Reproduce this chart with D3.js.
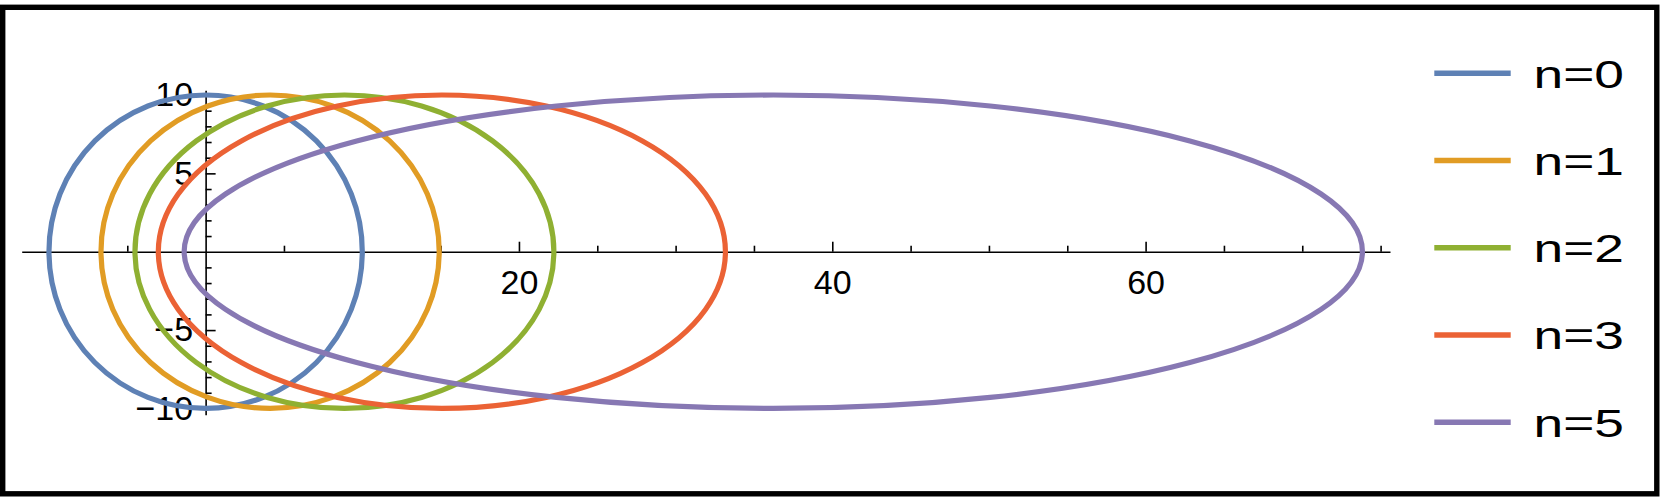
<!DOCTYPE html>
<html>
<head>
<meta charset="utf-8">
<script src="https://cdn.jsdelivr.net/npm/d3@7"></script>
<style>
  body { margin: 0; background: #fff; }
  text { font-family: "Liberation Sans", Arial, sans-serif; }
</style>
</head>
<body>
<script>
// series: left and right ends on the x axis, half height
var labels = ["n=0", "n=1", "n=2", "n=3", "n=5"];
var xLeft  = [-10.0, -6.68, -4.51, -3.02, -1.37];
var xRight = [10.0, 14.91, 22.23, 33.18, 73.84];
var yHalf  = [10, 10, 10, 10, 10];
var colors = ["#5e81b5", "#e19c24", "#8fb032", "#eb6235", "#8778b3"];

// ticks
var xMajor = [20, 40, 60];
var xMinor = [-10, -5, 5, 10, 15, 25, 30, 35, 45, 50, 55, 65, 70, 75];
var yMajor = [-10, -5, 5, 10];
var yMinor = [-9, -8, -7, -6, -4, -3, -2, -1, 1, 2, 3, 4, 6, 7, 8, 9];

var w = 1661;
var h = 503;

var svg = d3.select("body")
            .append("svg")
            .attr("width", w)
            .attr("height", h);

// frame
svg.append("rect")
    .attr("x", 2.7)
    .attr("y", 7.3)
    .attr("width", 1654.1)
    .attr("height", 486.5)
    .attr("fill", "none")
    .attr("stroke", "#000")
    .attr("stroke-width", 5.4);

var x = d3.scaleLinear().domain([-11.74, 75.6]).range([21.7, 1390]);
var y = d3.scaleLinear().domain([-10.4, 10.3]).range([414.7, 90.3]);

// x axis, major with labels
svg.append("g")
    .attr("transform", "translate(0," + y(0) + ")")
    .call(d3.axisBottom(x).tickValues(xMajor).tickSizeInner(-10).tickSizeOuter(0).tickPadding(18));
svg.append("g")
    .attr("transform", "translate(0," + y(0) + ")")
    .call(d3.axisBottom(x).tickValues(xMinor).tickSizeInner(-6).tickSizeOuter(0).tickFormat(""))
    .select(".domain").remove();

// y axis
svg.append("g")
    .attr("transform", "translate(" + x(0) + ",0)")
    .call(d3.axisLeft(y).tickValues(yMajor).tickSizeInner(-10).tickSizeOuter(0).tickPadding(12.5));
svg.append("g")
    .attr("transform", "translate(" + x(0) + ",0)")
    .call(d3.axisLeft(y).tickValues(yMinor).tickSizeInner(-6).tickSizeOuter(0).tickFormat(""))
    .select(".domain").remove();

svg.selectAll(".domain, .tick line")
    .attr("stroke", "#000")
    .attr("stroke-width", 1.6);

svg.selectAll(".tick text")
    .attr("fill", "#000")
    .style("font-size", "34px");

// curves
var series = labels.map(function(d, i) {
    return { label: d, x0: xLeft[i], x1: xRight[i], b: yHalf[i], color: colors[i] };
});

svg.append("g")
    .selectAll("ellipse")
    .data(series)
    .enter()
    .append("ellipse")
    .attr("cx", function(d) { return x((d.x0 + d.x1) / 2); })
    .attr("cy", y(0))
    .attr("rx", function(d) { return (x(d.x1) - x(d.x0)) / 2; })
    .attr("ry", function(d) { return y(0) - y(d.b); })
    .attr("fill", "none")
    .attr("stroke", function(d) { return d.color; })
    .attr("stroke-width", 5.2);

// legend
var legendY = d3.scalePoint().domain(labels).range([73.3, 422.3]);

var legend = svg.append("g")
    .selectAll("g")
    .data(series)
    .enter()
    .append("g")
    .attr("transform", function(d) { return "translate(0," + legendY(d.label) + ")"; });

legend.append("line")
    .attr("x1", 1434.3)
    .attr("x2", 1510.7)
    .attr("stroke", function(d) { return d.color; })
    .attr("stroke-width", 5.4);

legend.append("text")
    .attr("transform", "translate(1533.5,14.2) scale(1.35,1)")
    .style("font-size", "39.5px")
    .text(function(d) { return d.label; });
</script>
</body>
</html>
